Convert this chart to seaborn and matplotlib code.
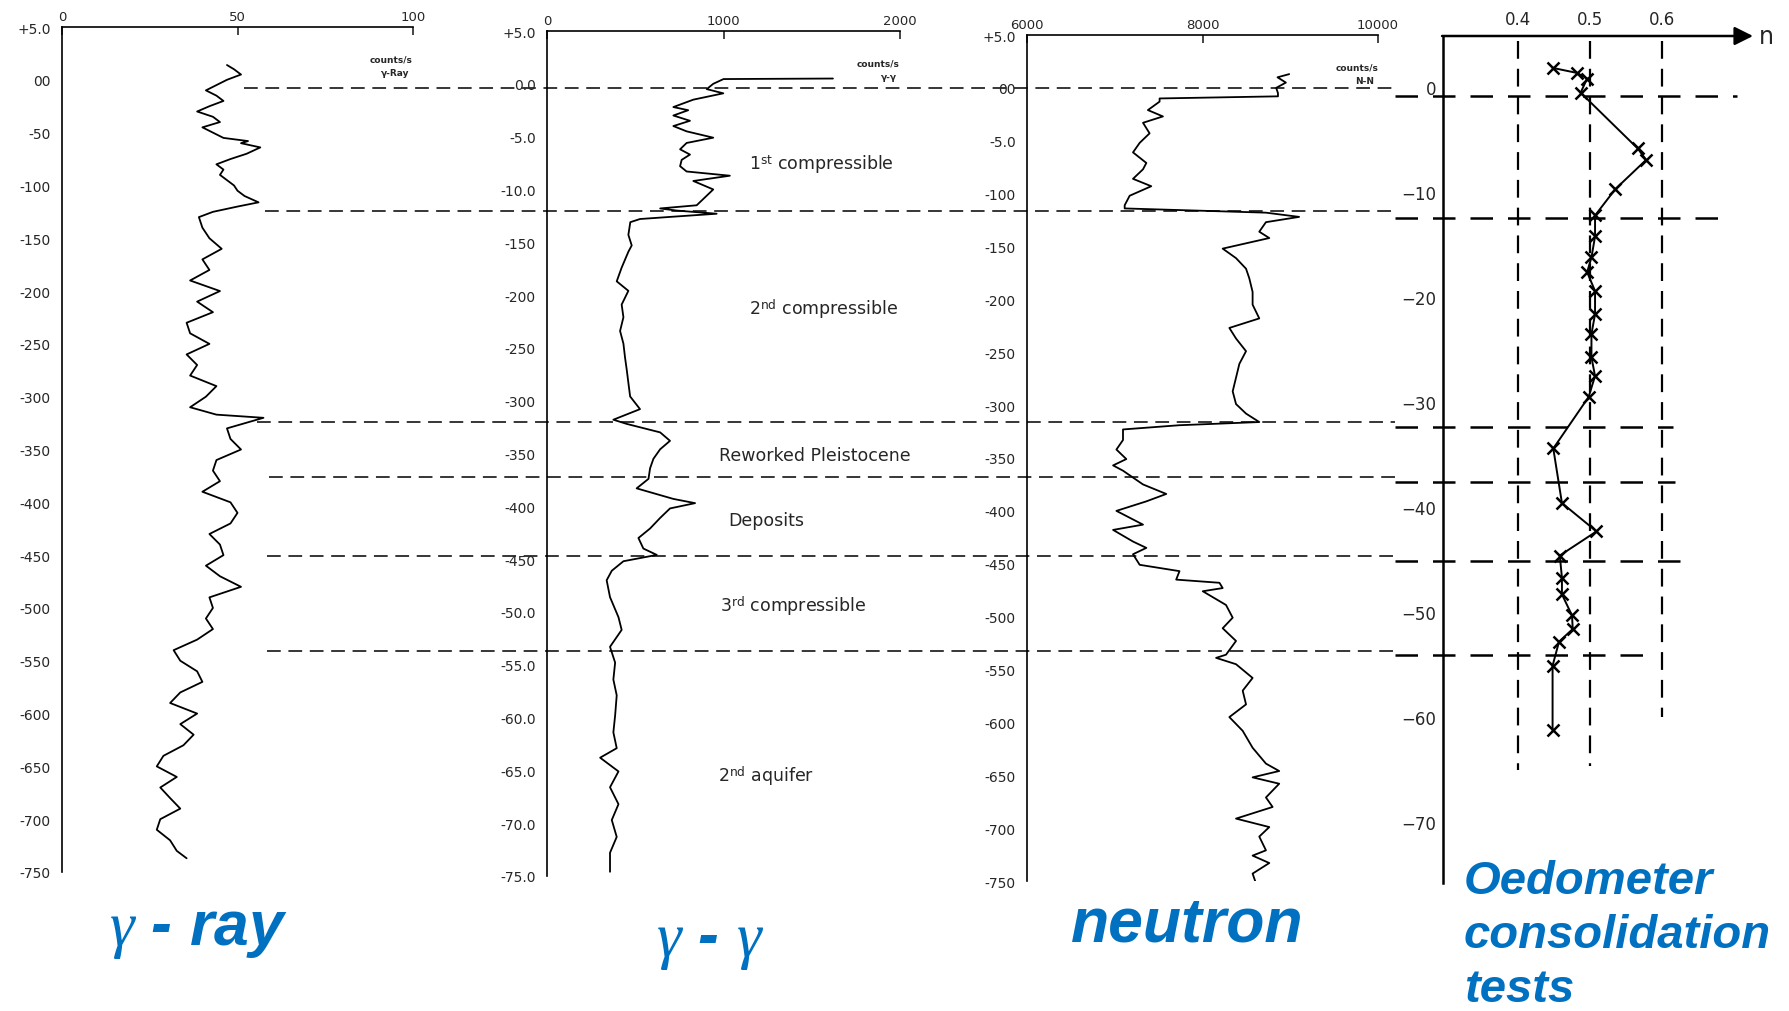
import matplotlib
matplotlib.use('Agg')
import matplotlib.pyplot as plt
import matplotlib.transforms as mtransforms
import pandas as pd
import seaborn as sns

# %%
# gamma-ray log: depth (m) and counts/s
gr_depth = [1.4, 1.0, 0.5, 0.0, -0.5, -1.0, -1.5, -2.0, -2.5, -3.0, -3.5, -4.0, -4.5, -5.0, -5.5,
            -5.8, -6.0, -6.4, -7.0, -7.5, -8.0, -8.5, -9.0, -9.5, -10.0, -10.5, -11.0, -11.6,
            -12.0, -12.5, -13.0, -14.0, -15.0, -16.0, -17.0, -18.0, -19.0, -20.0, -21.0, -22.0,
            -23.0, -24.0, -25.0, -26.0, -27.0, -28.0, -29.0, -30.0, -31.0, -31.7, -32.0, -33.0,
            -34.0, -35.0, -36.0, -37.0, -38.0, -39.0, -40.0, -41.0, -42.0, -43.0, -44.0, -45.0,
            -46.0, -47.0, -48.0, -49.0, -50.0, -51.0, -52.0, -53.0, -54.0, -55.0, -56.0, -57.0,
            -58.0, -59.0, -60.0, -61.0, -62.0, -63.0, -64.0, -65.0, -66.0, -67.0, -68.0, -69.0,
            -70.0, -71.0, -72.0, -73.0, -73.7]
gr_counts = [47, 49, 51, 47, 44, 41, 44, 46, 42, 38.5, 43, 45, 40, 43, 46,
             53, 51, 56.5, 52.6, 48, 44, 46, 45, 47, 49, 50, 52, 56,
             50, 43, 39, 40, 42, 45.5, 40, 42, 36.5, 45, 38.5, 43,
             35.5, 36.5, 42, 35.5, 38.5, 36.5, 44, 41, 36.5, 44, 57.4, 47,
             48, 51, 44, 43, 45, 40, 48, 50, 48, 42, 45, 46,
             41, 45, 51, 42, 43, 41, 43, 38.5, 31.8, 33.7, 38.5, 40,
             33.7, 30.8, 38.5, 33.7, 37.5, 34.6, 28.9, 27, 32.7, 28, 30.8, 33.7,
             28, 27, 30.8, 32.7, 35.5]

# gamma-gamma log
gg_depth = [0.5, 0.45, 0.0, -0.5, -0.9, -1.5, -2.2, -2.5, -3.0, -3.5, -4.0, -4.5, -5.1, -5.6,
            -6.2, -6.7, -7.2, -7.8, -8.3, -8.7, -9.2, -10.0, -11.5, -11.8, -12.0, -12.3, -12.6,
            -12.8, -13.1, -14.3, -15.3, -15.9, -17.4, -18.7, -19.6, -20.9, -22.1, -23.4, -24.6,
            -25.9, -27.1, -28.3, -29.6, -30.8, -31.8, -32.2, -33.0, -33.8, -34.6, -35.5, -36.4,
            -37.4, -38.3, -39.3, -39.7, -40.2, -41.1, -42.1, -43.0, -44.0, -44.6, -45.2, -46.1,
            -47.0, -48.6, -50.5, -51.7, -53.3, -54.8, -56.4, -57.9, -59.8, -61.4, -62.9, -63.8,
            -65.1, -66.6, -68.2, -69.7, -71.3, -72.8, -74.6]
gg_counts = [1620, 1000, 942, 905, 999, 829, 716, 800, 716, 810, 716, 791, 942, 791,
             754, 810, 763, 754, 791, 1036, 829, 942, 848, 641, 735, 961, 698,
             527, 472, 461, 480, 461, 423, 395, 461, 423, 433, 414, 433,
             442, 452, 461, 471, 527, 376, 452, 641, 697, 641, 603, 584,
             575, 508, 716, 839, 697, 641, 584, 518, 546, 622, 433, 367,
             338, 357, 405, 423, 357, 386, 376, 395, 386, 376, 395, 301,
             405, 357, 405, 367, 395, 357, 357]

# neutron-neutron log
nn_depth = [1.3, 1.0, 0.5, 0.0, -0.5, -0.8, -1.0, -1.3, -2.1, -2.7, -3.3, -4.3, -5.2, -6.1,
            -7.1, -7.7, -8.6, -9.3, -10.2, -11.1, -11.4, -11.8, -12.2, -12.7, -13.6, -14.2,
            -15.2, -16.1, -17.1, -18.0, -19.3, -20.5, -21.8, -22.7, -23.7, -24.9, -26.1, -27.4,
            -28.7, -29.9, -30.8, -31.6, -31.9, -32.3, -33.3, -34.2, -35.1, -35.7, -36.2, -37.5,
            -38.4, -39.1, -40.0, -41.3, -41.8, -42.9, -43.5, -44.1, -45.1, -45.7, -46.5, -46.8,
            -47.3, -47.6, -48.9, -50.1, -51.1, -52.3, -53.6, -53.9, -54.5, -55.8, -57.0, -58.3,
            -59.5, -60.8, -62.4, -63.9, -64.6, -65.2, -65.8, -67.1, -68.0, -69.1, -69.9, -70.8,
            -72.1, -72.6, -73.3, -74.3, -75.0]
nn_counts = [8988, 8855, 8950, 8840, 8860, 8860, 7511, 7511, 7378, 7549, 7322, 7397, 7284, 7208,
             7360, 7322, 7208, 7416, 7170, 7113, 7113, 8723, 9101, 8723, 8647, 8761,
             8230, 8382, 8496, 8533, 8571, 8571, 8647, 8306, 8382, 8496, 8420, 8382,
             8344, 8382, 8496, 8647, 7738, 7094, 7094, 7019, 7132, 6981, 7094, 7322,
             7587, 7360, 7019, 7322, 6981, 7208, 7360, 7208, 7284, 7738, 7700, 8193,
             8230, 8003, 8268, 8344, 8230, 8382, 8268, 8155, 8382, 8571, 8458, 8496,
             8306, 8458, 8571, 8723, 8874, 8571, 8874, 8723, 8799, 8382, 8761, 8647,
             8723, 8571, 8761, 8571, 8600]

# oedometer tests: porosity n vs depth (m)
oed_depth = [1.85, 1.38, 0.85, -0.5, -5.8, -6.9, -9.7, -12.2, -14.2, -16.2, -17.6, -19.4, -21.6,
             -23.5, -25.7, -27.5, -29.5, -34.4, -39.6, -42.3, -44.6, -46.7, -48.3, -50.3, -51.6,
             -52.8, -55.1, -61.2]
oed_n = [0.449, 0.482, 0.496, 0.487, 0.566, 0.578, 0.535, 0.507, 0.507, 0.502, 0.496, 0.507, 0.507,
         0.502, 0.502, 0.507, 0.498, 0.449, 0.461, 0.509, 0.458, 0.461, 0.461, 0.475, 0.476,
         0.457, 0.448, 0.448]
oed_ref_n = [0.4, 0.5, 0.6]
oed_ref_bottom = [-65.0, -64.7, -60.0]

# layer boundaries (m) and names
boundaries = [-0.8, -12.4, -32.4, -37.6, -45.1, -54.1]
layer_names = [r'1$^{\rm st}$ compressible', r'2$^{\rm nd}$ compressible', 'Reworked Pleistocene',
               'Deposits', r'3$^{\rm rd}$ compressible', r'2$^{\rm nd}$ aquifer']

depth_ticks = [5, 0, -5, -10, -15, -20, -25, -30, -35, -40, -45, -50, -55, -60, -65, -70, -75]
p1_labels = ['+5.0', '00', '-50', '-100', '-150', '-200', '-250', '-300', '-350', '-400', '-450',
             '-500', '-550', '-600', '-650', '-700', '-750']
p2_labels = ['+5.0', '0.0', '-5.0', '-10.0', '-150', '-200', '-250', '-300', '-350', '-400', '-450',
             '-50.0', '-55.0', '-60.0', '-65.0', '-70.0', '-75.0']
p3_labels = ['+5.0', '00', '-5.0', '-100', '-150', '-200', '-250', '-300', '-350', '-400', '-450',
             '-500', '-550', '-600', '-650', '-700', '-750']
oed_ticks = [0, -10, -20, -30, -40, -50, -60, -70]
oed_minor = [-5, -15, -25, -35, -45, -55, -65]

# %%
sns.set_style('white')
plt.rcParams['font.family'] = ['DejaVu Sans']
plt.rcParams['mathtext.fontset'] = 'custom'
plt.rcParams['mathtext.rm'] = 'DejaVu Sans'
plt.rcParams['mathtext.it'] = 'Liberation Serif:italic'

W, H = 1789, 1012
fig = plt.figure(figsize=(W / 100, H / 100), dpi=100)


def px_axes(left, top, right, bottom):
    return fig.add_axes([left / W, 1 - bottom / H, (right - left) / W, (bottom - top) / H])


def log_panel(ax, depth, counts, xlim, xticks, xlabels, ylabels, unit_bot):
    df = pd.DataFrame({'counts': counts, 'depth': depth})
    sns.lineplot(data=df, x='counts', y='depth', sort=False, estimator=None,
                 color='black', lw=1.3, ax=ax)
    ax.set_xlim(*xlim)
    ax.set_ylim(-75, 5)
    ax.set_facecolor('none')
    ax.set_xlabel('')
    ax.set_ylabel('')
    for s in ['right', 'bottom']:
        ax.spines[s].set_visible(False)
    for s in ['left', 'top']:
        ax.spines[s].set_color('black')
        ax.spines[s].set_linewidth(1.2)
    ax.xaxis.tick_top()
    ax.set_xticks(xticks)
    ax.set_xticklabels(xlabels, fontsize=9.5)
    ax.set_yticks(depth_ticks)
    ax.set_yticklabels(ylabels, fontsize=10)
    ax.tick_params(axis='x', direction='in', length=6, width=1.2, pad=3)
    ax.tick_params(axis='y', direction='in', length=3, width=1.2, pad=8)
    ax.text(1.0, 0.962, 'counts/s', transform=ax.transAxes, ha='right', va='center',
            fontsize=6.5, fontweight='bold')
    ax.text(0.99, 0.946, unit_bot, transform=ax.transAxes, ha='right', va='center',
            fontsize=6.5, fontweight='bold')


ax1 = px_axes(62, 28, 413, 873)
log_panel(ax1, gr_depth, gr_counts, (0, 100), [0, 50, 100], ['0', '50', '100'], p1_labels, 'γ-Ray')
ax2 = px_axes(547, 32, 900, 877)
log_panel(ax2, gg_depth, gg_counts, (0, 2000), [0, 1000, 2000], ['0', '1000', '2000'], p2_labels,
          'γ-γ')
ax3 = px_axes(1027, 36, 1378, 882)
log_panel(ax3, nn_depth, nn_counts, (6000, 10000), [6000, 8000, 10000], ['6000', '8000', '10000'],
          p3_labels, 'N-N')

# oedometer panel
ax4 = px_axes(1443, 37, 1753, 884)
odf = pd.DataFrame({'n': oed_n, 'depth': oed_depth})
sns.lineplot(data=odf, x='n', y='depth', sort=False, estimator=None, color='black', lw=1.4,
             marker='x', markersize=8, markeredgewidth=1.8, markeredgecolor='black', ax=ax4)
ax4.set_xlim(0.2958, 0.7264)
ax4.set_ylim(-75.8, 4.9)
ax4.set_facecolor('none')
ax4.set_xlabel('')
ax4.set_ylabel('')
for s in ['right', 'bottom', 'top']:
    ax4.spines[s].set_visible(False)
ax4.spines['left'].set_color('black')
ax4.spines['left'].set_linewidth(1.8)
for n, b in zip(oed_ref_n, oed_ref_bottom):
    ax4.plot([n, n], [4.4, b], color='black', lw=1.6, ls=(0, (8, 4.5)))
ax4.annotate('', xy=(1.0, 1.0), xytext=(-0.003, 1.0), xycoords='axes fraction',
             arrowprops=dict(arrowstyle='-|>', color='black', lw=1.8, mutation_scale=28,
                             shrinkA=0, shrinkB=0))
ax4.text(1.02, 1.0, 'n', transform=ax4.transAxes, ha='left', va='center', fontsize=17)
ax4.xaxis.tick_top()
ax4.set_xticks(oed_ref_n)
ax4.set_xticklabels(['0.4', '0.5', '0.6'], fontsize=12)
ax4.tick_params(axis='x', length=0, pad=6)
ax4.set_yticks(oed_ticks)
ax4.set_yticklabels([str(t) if t == 0 else '\u2212' + str(-t) for t in oed_ticks], fontsize=12)
ax4.set_yticks(oed_minor, minor=True)
ax4.tick_params(axis='y', which='both', direction='in', length=7, width=1.6, pad=5)

# layer boundaries across the logs and the oedometer panel
line_start = [244, 265, 257, 269, 267, 267]
line_end = [1737, 1728, 1673, 1675, 1685, 1655]
t1 = mtransforms.blended_transform_factory(fig.transFigure, ax1.transData)
t4 = mtransforms.blended_transform_factory(fig.transFigure, ax4.transData)
for d, x0, x1 in zip(boundaries, line_start, line_end):
    ax1.plot([x0 / W, 1395 / W], [d, d], transform=t1, clip_on=False, color='black', lw=1.1,
             ls=(0, (9, 5)))
    ax4.plot([1395 / W, x1 / W], [d, d], transform=t4, clip_on=False, color='black', lw=1.8,
             ls=(0, (9, 6)))

# layer names
label_pos = [(821, 165), (824, 309), (815, 456), (766, 521), (793, 606), (766, 776)]
for name, (x, y) in zip(layer_names, label_pos):
    fig.text(x / W, 1 - y / H, name, ha='center', va='center', fontsize=12.5)

# blue captions
blue = '#0070C0'
cap = dict(color=blue, fontsize=45, fontweight='bold', fontstyle='italic',
           family=['Liberation Sans', 'DejaVu Sans'])
fig.text(198 / W, 1 - 945 / H, r'$\gamma$ - ray', ha='center', va='baseline', **cap)
fig.text(710 / W, 1 - 956 / H, r'$\gamma$ - $\gamma$', ha='center', va='baseline', **cap)
fig.text(1187 / W, 1 - 942 / H, 'neutron', ha='center', va='baseline', **cap)
cap['fontsize'] = 34
fig.text(1464 / W, 1 - 860 / H, 'Oedometer\nconsolidation\ntests', ha='left', va='top',
         linespacing=1.3, **cap)

fig.savefig('out.png', dpi=100, facecolor='white')
